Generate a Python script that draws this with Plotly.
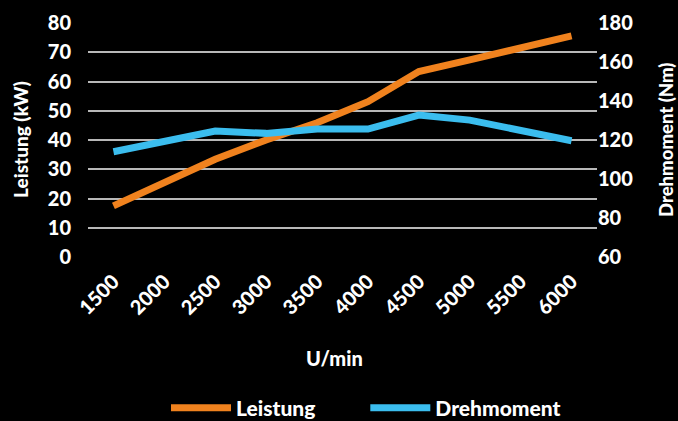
import plotly.graph_objects as go

rpm = ["1500", "2000", "2500", "3000", "3500", "4000", "4500", "5000", "5500", "6000"]
leistung = [17.5, 25.7, 33.4, 40.0, 45.9, 53.1, 63.4, 67.4, 71.7, 75.6]
drehmoment = [114, 119, 124.6, 123.4, 125.6, 125.6, 132.8, 130.2, 125.1, 119.6]

left_ticks = [0, 10, 20, 30, 40, 50, 60, 70, 80]
right_ticks = [60, 80, 100, 120, 140, 160, 180]

FONT = "Lato"
W = 900
PAD = "\u00a0" * 9

fig = go.Figure()
fig.add_trace(go.Scatter(x=rpm, y=leistung, name="Leistung" + PAD, mode="lines",
                         line=dict(color="#F0821E", width=7)))
fig.add_trace(go.Scatter(x=rpm, y=drehmoment, name="Drehmoment", mode="lines",
                         line=dict(color="#3BBDEE", width=7), yaxis="y2"))

tf = dict(family=FONT, size=20, color="white", weight=W)

fig.update_layout(
    width=678, height=421,
    paper_bgcolor="black", plot_bgcolor="black",
    margin=dict(l=88, r=81, t=23, b=164),
    font=dict(family=FONT, color="white", size=20, weight=W),
    xaxis=dict(range=[-0.5, 9.5], tickangle=-45, showgrid=False, zeroline=False,
               automargin=False, tickfont=tf,
               ticks="outside", ticklen=4, tickcolor="black"),
    yaxis=dict(range=[0, 80], tickvals=left_ticks,
               showgrid=True, gridcolor="#b8b8b8", gridwidth=2, zeroline=False,
               automargin=False, tickfont=tf,
               ticks="outside", ticklen=12, tickcolor="black"),
    yaxis2=dict(range=[60, 180], tickvals=right_ticks,
                overlaying="y", side="right", automargin=False,
                showgrid=False, zeroline=False, tickfont=tf, ticks=""),
    legend=dict(orientation="h", xref="container", yref="container",
                x=166 / 678, xanchor="left", y=1 - 408 / 421, yanchor="middle",
                font=dict(family=FONT, size=21, color="white", weight=W),
                itemwidth=60, tracegroupgap=0),
    showlegend=True,
    annotations=[
        dict(text="Leistung (kW)", xref="paper", yref="paper", x=(20 - 88) / 509, y=0.5,
             xanchor="center", yanchor="middle", textangle=-90, showarrow=False,
             font=dict(family=FONT, size=19, color="white", weight=W)),
        dict(text="Drehmoment (Nm)", xref="paper", yref="paper", x=(666 - 88) / 509, y=0.5,
             xanchor="center", yanchor="middle", textangle=-90, showarrow=False,
             font=dict(family=FONT, size=18.5, color="white", weight=W)),
        dict(text="U/min", xref="paper", yref="paper", x=(334 - 88) / 509,
             y=(257 - 358) / 234, xanchor="center", yanchor="middle", showarrow=False,
             font=dict(family=FONT, size=20, color="white", weight=W)),
    ],
)
fig.write_html("out.html", config={"displayModeBar": False},
               post_script="document.body.style.margin='0';document.body.style.background='black';")
